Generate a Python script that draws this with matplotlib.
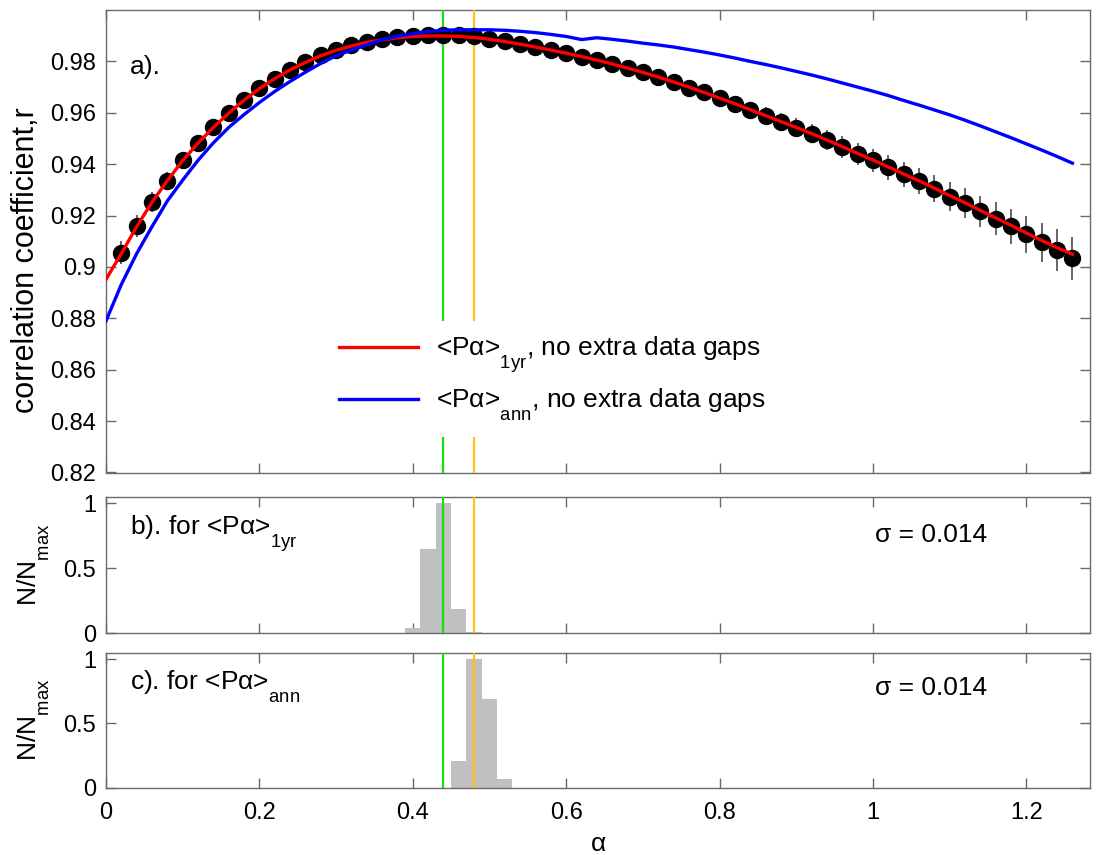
import matplotlib
matplotlib.use('Agg')
import matplotlib.pyplot as plt

plt.rcParams['font.family'] = ['Liberation Sans', 'DejaVu Sans']
plt.rcParams['mathtext.fontset'] = 'custom'
plt.rcParams['mathtext.rm'] = 'Liberation Sans'
plt.rcParams['mathtext.it'] = 'Liberation Sans:italic'
plt.rcParams['mathtext.bf'] = 'Liberation Sans:bold'
try:
    import matplotlib._mathtext as _mt
    _mt.FontConstantsBase.sub1 = 0.95
except Exception:
    pass

# ---------------- data ----------------
alpha_dots = [0.02, 0.04, 0.06, 0.08, 0.10, 0.12, 0.14, 0.16, 0.18, 0.20,
              0.22, 0.24, 0.26, 0.28, 0.30, 0.32, 0.34, 0.36, 0.38, 0.40,
              0.42, 0.44, 0.46, 0.48, 0.50, 0.52, 0.54, 0.56, 0.58, 0.60,
              0.62, 0.64, 0.66, 0.68, 0.70, 0.72, 0.74, 0.76, 0.78, 0.80,
              0.82, 0.84, 0.86, 0.88, 0.90, 0.92, 0.94, 0.96, 0.98, 1.00,
              1.02, 1.04, 1.06, 1.08, 1.10, 1.12, 1.14, 1.16, 1.18, 1.20,
              1.22, 1.24, 1.26]
r_dots = [0.9056, 0.9159, 0.9253, 0.9336, 0.9415, 0.9483, 0.9544, 0.9599, 0.9650, 0.9695,
          0.9733, 0.9768, 0.9797, 0.9823, 0.9845, 0.9862, 0.9877, 0.9887, 0.9896, 0.9900,
          0.9903, 0.9903, 0.9902, 0.9898, 0.9888, 0.9878, 0.9867, 0.9857, 0.9845, 0.9832,
          0.9819, 0.9806, 0.9790, 0.9774, 0.9758, 0.9739, 0.9720, 0.9698, 0.9679, 0.9657,
          0.9634, 0.9612, 0.9589, 0.9566, 0.9542, 0.9519, 0.9494, 0.9466, 0.9440, 0.9415,
          0.9388, 0.9360, 0.9334, 0.9305, 0.9274, 0.9248, 0.9216, 0.9188, 0.9158, 0.9128,
          0.9096, 0.9066, 0.9034]
r_err = [0.0045, 0.0042, 0.0038, 0.0035, 0.0032, 0.0030, 0.0028, 0.0026, 0.0024, 0.0022,
         0.0020, 0.0018, 0.0016, 0.0014, 0.0012, 0.0010, 0.0009, 0.0008, 0.0007, 0.0006,
         0.0006, 0.0006, 0.0007, 0.0008, 0.0009, 0.0010, 0.0011, 0.0012, 0.0013, 0.0014,
         0.0015, 0.0016, 0.0017, 0.0018, 0.0020, 0.0021, 0.0022, 0.0024, 0.0026, 0.0028,
         0.0029, 0.0031, 0.0033, 0.0034, 0.0036, 0.0038, 0.0040, 0.0042, 0.0043, 0.0045,
         0.0048, 0.0050, 0.0052, 0.0054, 0.0056, 0.0059, 0.0062, 0.0065, 0.0068, 0.0072,
         0.0076, 0.0080, 0.0084]

alpha_line = [0.00] + alpha_dots
r_1yr = [0.8952, 0.9052, 0.9157, 0.9252, 0.9336, 0.9414, 0.9482, 0.9543, 0.9598, 0.9649, 0.9694,
         0.9733, 0.9767, 0.9796, 0.9822, 0.9843, 0.9860, 0.9874, 0.9884, 0.9892, 0.9897,
         0.9899, 0.9899, 0.9897, 0.9893, 0.9886, 0.9877, 0.9867, 0.9856, 0.9844, 0.9832,
         0.9819, 0.9805, 0.9790, 0.9774, 0.9757, 0.9739, 0.9720, 0.9700, 0.9679, 0.9657,
         0.9635, 0.9612, 0.9589, 0.9566, 0.9543, 0.9519, 0.9494, 0.9468, 0.9442, 0.9416,
         0.9389, 0.9362, 0.9335, 0.9307, 0.9278, 0.9250, 0.9220, 0.9191, 0.9162, 0.9132,
         0.9103, 0.9075, 0.9050]
r_ann = [0.8790, 0.8932, 0.9052, 0.9157, 0.9257, 0.9338, 0.9415, 0.9483, 0.9543, 0.9593, 0.9640,
         0.9683, 0.9722, 0.9758, 0.9792, 0.9822, 0.9844, 0.9864, 0.9884, 0.9898, 0.9908,
         0.9916, 0.9921, 0.9923, 0.9923, 0.9923, 0.9921, 0.9917, 0.9912, 0.9905, 0.9897,
         0.9885, 0.9892, 0.9886, 0.9879, 0.9871, 0.9864, 0.9856, 0.9846, 0.9836, 0.9825,
         0.9813, 0.9800, 0.9788, 0.9775, 0.9761, 0.9747, 0.9732, 0.9716, 0.9700, 0.9684,
         0.9667, 0.9648, 0.9630, 0.9611, 0.9592, 0.9571, 0.9549, 0.9526, 0.9503, 0.9479,
         0.9455, 0.9430, 0.9404]

alpha_best_1yr = 0.44
alpha_best_ann = 0.48

hist_b_edges = [0.39, 0.41, 0.43, 0.45, 0.47, 0.49]
hist_b_vals = [0.04, 0.65, 1.00, 0.19, 0.01]
hist_c_edges = [0.45, 0.47, 0.49, 0.51, 0.53]
hist_c_vals = [0.21, 1.00, 0.69, 0.07]

sigma_b = "0.014"
sigma_c = "0.014"

xticks = [0, 0.2, 0.4, 0.6, 0.8, 1.0, 1.2]
xticklabels = ['0', '0.2', '0.4', '0.6', '0.8', '1', '1.2']
yticks_a = [0.82, 0.84, 0.86, 0.88, 0.90, 0.92, 0.94, 0.96, 0.98]
yticklabels_a = ['0.82', '0.84', '0.86', '0.88', '0.9', '0.92', '0.94', '0.96', '0.98']
yticks_h = [0, 0.5, 1]
yticklabels_h = ['0', '0.5', '1']

# ---------------- style ----------------
FS_TICK = 17
FS_LAB = 19
SPINE = '#6a6a6a'
GREEN = '#18dc18'
ORANGE = '#ffc213'
XMAX = 1.283

fig = plt.figure(figsize=(10.98, 8.55), dpi=100)
L, R = 106 / 1098, 1090 / 1098
W = R - L
def ax_px(top, bottom):
    return [L, 1 - bottom / 855, W, (bottom - top) / 855]

ax_a = fig.add_axes(ax_px(10, 472.5))
ax_b = fig.add_axes(ax_px(496.7, 633.3))
ax_c = fig.add_axes(ax_px(652.7, 787.7))

for ax in (ax_a, ax_b, ax_c):
    ax.set_xlim(0, XMAX)
    ax.set_xticks(xticks)
    for s in ax.spines.values():
        s.set_color(SPINE)
        s.set_linewidth(1.0)
    ax.tick_params(direction='in', length=7, width=1.0, color=SPINE,
                   top=True, right=True, labelsize=FS_TICK, pad=7)
    ax.tick_params(axis='x', pad=10)
    ax.axvline(alpha_best_1yr, color=GREEN, lw=1.6, zorder=3)
    ax.axvline(alpha_best_ann, color=ORANGE, lw=1.6, zorder=3)

# panel a
ax_a.set_ylim(0.82, 1.0)
ax_a.set_yticks(yticks_a)
ax_a.set_yticklabels(yticklabels_a)
ax_a.set_xticklabels([])
ax_a.errorbar(alpha_dots, r_dots, yerr=r_err, fmt='none', ecolor='#4a4a4a',
              elinewidth=1.2, capsize=0, zorder=4)
ax_a.plot(alpha_dots, r_dots, 'o', color='black', markersize=11.5, zorder=5)
ax_a.plot(alpha_line, r_1yr, color='#ff0000', lw=2.4, zorder=6,
          label='<P\u03b1>$_{\\mathrm{1yr}}$, no extra data gaps')
ax_a.plot(alpha_line, r_ann, color='#0000ff', lw=2.4, zorder=6,
          label='<P\u03b1>$_{\\mathrm{ann}}$, no extra data gaps')
ax_a.text(0.0244, 0.877, 'a).', transform=ax_a.transAxes, fontsize=FS_LAB,
          va='center', ha='left')
ax_a.set_ylabel('correlation coefficient,r', fontsize=22)
ax_a.yaxis.set_label_coords(-0.066, 0.46)
leg = ax_a.legend(loc='upper left', bbox_to_anchor=(0.223, 0.327), frameon=True,
                  fontsize=FS_LAB, handlelength=3.0, handletextpad=0.7,
                  labelspacing=0.45, borderpad=0.5, borderaxespad=0)
leg.get_frame().set_facecolor('white')
leg.get_frame().set_edgecolor('none')
leg.get_frame().set_alpha(1.0)
leg.set_zorder(10)

# panel b
ax_b.bar(hist_b_edges[:-1], hist_b_vals, width=[hist_b_edges[i + 1] - hist_b_edges[i] for i in range(len(hist_b_vals))],
         align='edge', color='#c0c0c0', edgecolor='none', zorder=2)
ax_b.set_ylim(0, 1.05)
ax_b.set_yticks(yticks_h)
ax_b.set_yticklabels(yticklabels_h)
ax_b.set_xticklabels([])
ax_b.text(0.0244, 0.72, 'b). for <P\u03b1>$_{\\mathrm{1yr}}$', transform=ax_b.transAxes,
          fontsize=FS_LAB, va='baseline', ha='left')
ax_b.text(0.7815, 0.67, '\u03c3 = ' + sigma_b, transform=ax_b.transAxes,
          fontsize=FS_LAB, va='baseline', ha='left')
ax_b.set_ylabel('N/N$_{\\mathrm{max}}$', fontsize=FS_LAB)
ax_b.yaxis.set_label_coords(-0.055, 0.5)

# panel c
ax_c.bar(hist_c_edges[:-1], hist_c_vals, width=[hist_c_edges[i + 1] - hist_c_edges[i] for i in range(len(hist_c_vals))],
         align='edge', color='#c0c0c0', edgecolor='none', zorder=2)
ax_c.set_ylim(0, 1.05)
ax_c.set_yticks(yticks_h)
ax_c.set_yticklabels(yticklabels_h)
ax_c.set_xticklabels(xticklabels)
ax_c.text(0.0244, 0.724, 'c). for <P\u03b1>$_{\\mathrm{ann}}$', transform=ax_c.transAxes,
          fontsize=FS_LAB, va='baseline', ha='left')
ax_c.text(0.7815, 0.687, '\u03c3 = ' + sigma_c, transform=ax_c.transAxes,
          fontsize=FS_LAB, va='baseline', ha='left')
ax_c.set_ylabel('N/N$_{\\mathrm{max}}$', fontsize=FS_LAB)
ax_c.yaxis.set_label_coords(-0.055, 0.5)
ax_c.set_xlabel('\u03b1', fontsize=FS_LAB, labelpad=6)

fig.savefig('out.png', dpi=100, facecolor='white')
